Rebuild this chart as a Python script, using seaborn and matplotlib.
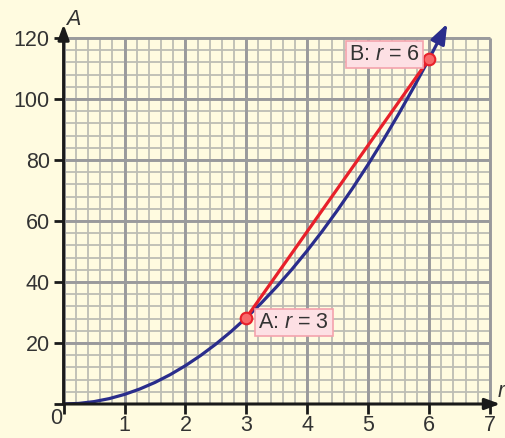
import numpy as np
import matplotlib
matplotlib.use("Agg")
import matplotlib.pyplot as plt
import seaborn as sns
import pandas as pd

# Area of a circle A against radius r, sampled every 0.25
radius = [0, 0.25, 0.5, 0.75, 1, 1.25, 1.5, 1.75, 2, 2.25, 2.5, 2.75, 3,
          3.25, 3.5, 3.75, 4, 4.25, 4.5, 4.75, 5, 5.25, 5.5, 5.75, 6, 6.25, 6.3]
area = [0.0, 0.196, 0.785, 1.767, 3.142, 4.909, 7.069, 9.621, 12.566, 15.904,
        19.635, 23.758, 28.274, 33.183, 38.485, 44.179, 50.265, 56.745, 63.617,
        70.882, 78.540, 86.590, 95.033, 103.869, 113.097, 122.718, 124.690]

# Chord endpoints
point_r = [3, 6]
point_a = [28.274, 113.097]
point_labels = ["A: $\\mathit{r}$ = 3", "B: $\\mathit{r}$ = 6"]

x_ticks = [1, 2, 3, 4, 5, 6, 7]
y_ticks = [20, 40, 60, 80, 100, 120]

sns.set_theme(style="white")
plt.rcParams["font.family"] = ["Liberation Sans", "DejaVu Sans"]
plt.rcParams["mathtext.fontset"] = "custom"
plt.rcParams["mathtext.rm"] = "Liberation Sans"
plt.rcParams["mathtext.it"] = "Liberation Sans:italic"

BG = "#fffbe0"
TXT = "#333333"
FS = 15.5
fig = plt.figure(figsize=(5.05, 4.38), dpi=100, facecolor=BG)
ax = fig.add_axes([63.6 / 505, 34 / 438, 1 - 63.6 / 505, 404 / 438])
ax.set_facecolor(BG)
ax.set_xlim(0, (505 - 63.6) / 60.9)
ax.set_ylim(0, 404 / 3.05)
for s in ax.spines.values():
    s.set_visible(False)

# graph-paper grid over 0..7 x 0..120
minor_x = np.arange(0, 7.001, 0.2)
minor_y = np.arange(0, 120.001, 4)
ax.vlines(minor_x, 0, 120, color="#bdbdb4", lw=1.3, zorder=1)
ax.hlines(minor_y, 0, 7, color="#bdbdb4", lw=1.3, zorder=1)
ax.vlines(range(0, 8), 0, 120, color="#9a9a9c", lw=2.1, zorder=1.1)
ax.hlines(range(0, 121, 20), 0, 7, color="#9a9a9c", lw=2.1, zorder=1.1)

# axes with arrows
axis_kw = dict(arrowstyle="-|>,head_length=0.6,head_width=0.22", lw=2.2,
               color="#1a1a1a", shrinkA=0, shrinkB=0, mutation_scale=15)
ax.annotate("", xy=(0, 124.5), xytext=(0, 0), arrowprops=axis_kw, zorder=5,
            annotation_clip=False)
ax.annotate("", xy=(7.17, 0), xytext=(0, 0), arrowprops=axis_kw, zorder=5,
            annotation_clip=False)

# ticks (the origin carries a tick mark but its label is drawn separately)
ax.set_xticks([0] + x_ticks)
ax.set_yticks([0] + y_ticks)
ax.set_xticklabels([""] + [str(v) for v in x_ticks])
ax.set_yticklabels([""] + [str(v) for v in y_ticks])
ax.tick_params(axis="both", which="major", direction="out", length=7, width=2,
               color="#1a1a1a", labelsize=FS, labelcolor=TXT, pad=3,
               bottom=True, left=True)
ax.tick_params(axis="x", pad=1.2)
ax.text(-0.02, -1.2, "0", ha="right", va="top", fontsize=FS, color=TXT)
ax.text(0.16, 124.3, "A", ha="center", va="baseline", fontsize=FS, color=TXT,
        style="italic")
ax.text(7.245, 2.3, "r", ha="right", va="baseline", fontsize=FS, color=TXT,
        style="italic", clip_on=False)

# curve
df = pd.DataFrame({"r": radius[:-1], "A": area[:-1]})
sns.lineplot(data=df, x="r", y="A", ax=ax, color="#2a2d8c", lw=2.3,
             sort=False, zorder=3)
ax.annotate("", xy=(radius[-1], area[-1]), xytext=(radius[-2], area[-2]),
            arrowprops=dict(arrowstyle="-|>,head_length=0.8,head_width=0.3",
                            lw=2.3, color="#2a2d8c", shrinkA=0, shrinkB=0,
                            mutation_scale=15), zorder=3)

# chord and points
ax.plot(point_r, point_a, color="#e8202a", lw=2.3, zorder=4)
pts = pd.DataFrame({"r": point_r, "A": point_a})
sns.scatterplot(data=pts, x="r", y="A", ax=ax, s=70, color="#f86a6a",
                edgecolor="#e8202a", linewidth=1.5, zorder=6)

box = dict(boxstyle="square,pad=0.15", facecolor="#fde0e4", edgecolor="#f4a3ad",
           lw=1.2)
ax.text(3.2, 26.7, point_labels[0], ha="left", va="center", fontsize=FS,
        color=TXT, bbox=box, zorder=7)
ax.text(5.85, 114.6, point_labels[1], ha="right", va="center", fontsize=FS,
        color=TXT, bbox=box, zorder=7)

ax.set_xlabel("")
ax.set_ylabel("")
fig.savefig("out.png", dpi=100, facecolor=BG)
